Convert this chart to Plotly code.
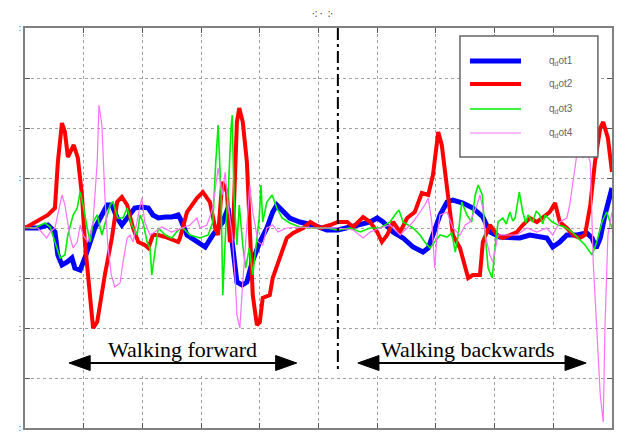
import plotly.graph_objects as go

# ---------------- data (time axis 0..10, signal axis -4..4) ----------------
x_dot1 = [0, 0.22, 0.39, 0.51, 0.56, 0.63, 0.72, 0.80, 0.85, 0.94, 1.02, 1.11, 1.19, 1.31, 1.40, 1.48,
          1.57, 1.65, 1.75, 1.87, 1.99, 2.10, 2.18, 2.27, 2.39, 2.50, 2.61, 2.64, 2.76, 2.93, 3.07, 3.20,
          3.37, 3.46, 3.54, 3.61, 3.70, 3.78, 3.87, 4.00, 4.12, 4.22, 4.29, 4.40, 4.51, 4.68, 4.91, 5.14,
          5.33, 5.54, 5.71, 5.88, 6.00, 6.10, 6.27, 6.44, 6.61, 6.78, 6.87, 6.95, 7.07, 7.19, 7.29, 7.46,
          7.63, 7.80, 7.92, 8.09, 8.26, 8.43, 8.60, 8.77, 8.89, 8.99, 9.11, 9.23, 9.40, 9.57, 9.66, 9.73,
          9.80, 9.88, 9.97, 10.0]
y_dot1 = [0, 0, 0.06, -0.08, -0.54, -0.74, -0.68, -0.60, -0.80, -0.84, -0.60, -0.28, 0, 0.26, 0.46, 0.46,
          0.20, 0.06, 0.20, 0.40, 0.42, 0.40, 0.26, 0.20, 0.22, 0.22, 0.26, 0.20, -0.14, -0.28, -0.38, -0.14,
          0.12, 0.40, -0.34, -1.08, -1.14, -1.08, -0.68, -0.28, 0, 0.32, 0.46, 0.32, 0.20, 0.12, 0.06, -0.04,
          -0.04, 0.02, 0.06, 0.12, 0.20, 0.12, -0.08, -0.20, -0.38, -0.48, -0.40, -0.14, 0.26, 0.52, 0.56, 0.50,
          0.40, 0.22, -0.08, -0.18, -0.20, -0.20, -0.14, -0.18, -0.20, -0.38, -0.28, -0.14, -0.14, -0.10, -0.20, -0.40,
          -0.20, 0.26, 0.66, 0.80]

x_dot2 = [0, 0.39, 0.51, 0.56, 0.63, 0.68, 0.73, 0.83, 0.90, 0.97, 1.02, 1.11, 1.16, 1.23, 1.36, 1.48,
          1.57, 1.65, 1.74, 1.84, 1.93, 2.04, 2.10, 2.18, 2.27, 2.39, 2.50, 2.61, 2.64, 2.76, 2.93, 3.03,
          3.15, 3.24, 3.29, 3.36, 3.44, 3.49, 3.54, 3.61, 3.65, 3.71, 3.78, 3.83, 3.88, 3.95, 4.00, 4.05,
          4.17, 4.22, 4.34, 4.46, 4.57, 4.74, 4.86, 5.03, 5.20, 5.33, 5.49, 5.59, 5.76, 5.88, 6.00, 6.08,
          6.17, 6.27, 6.39, 6.51, 6.64, 6.76, 6.87, 6.95, 7.04, 7.10, 7.19, 7.29, 7.41, 7.55, 7.63, 7.75,
          7.80, 7.92, 8.04, 8.14, 8.26, 8.38, 8.48, 8.60, 8.72, 8.82, 8.94, 9.03, 9.11, 9.23, 9.34, 9.45,
          9.54, 9.63, 9.71, 9.80, 9.85, 9.93, 10.0]
y_dot2 = [0, 0.26, 0.40, 1.32, 2.10, 1.92, 1.42, 1.66, 1.40, 0.66, -0.28, -1.48, -2.00, -1.88, -0.94, -0.20,
          0.52, 0.62, 0.46, 0, -0.28, -0.34, -0.40, -0.14, -0.14, -0.18, -0.24, -0.28, -0.20, 0.32, 0.60, 0.72,
          0.52, 0, -0.14, 0.92, 0.72, -0.28, -0.20, 2.12, 2.40, 2.12, 1.32, 0, -1.34, -1.94, -1.88, -1.40,
          -1.34, -1.00, -0.60, -0.20, -0.10, 0, 0.12, 0, 0.06, 0.12, 0.12, 0.02, 0.22, 0.12, -0.08, -0.28,
          -0.14, 0.12, -0.08, 0.20, 0.32, 0.70, 0.66, 1.06, 1.92, 1.66, 0.80, -0.14, -0.40, -1.00, -0.94, -0.94,
          -0.28, 0.06, -0.14, -0.20, -0.14, -0.08, 0.06, 0.20, 0.12, 0.20, 0.32, 0.50, 0.12, 0, -0.14, -0.20,
          -0.14, 0.46, 1.32, 2.00, 2.12, 1.80, 1.12]

x_dot3 = [0, 0.17, 0.34, 0.43, 0.51, 0.60, 0.68, 0.73, 0.82, 0.89, 0.94, 0.99, 1.06, 1.11, 1.16, 1.23,
          1.31, 1.36, 1.45, 1.50, 1.58, 1.67, 1.74, 1.82, 1.91, 1.96, 2.01, 2.08, 2.13, 2.16, 2.21, 2.27,
          2.39, 2.50, 2.61, 2.69, 2.81, 2.98, 3.12, 3.20, 3.25, 3.29, 3.34, 3.37, 3.42, 3.46, 3.51, 3.53,
          3.56, 3.61, 3.65, 3.71, 3.76, 3.82, 3.88, 3.94, 3.99, 4.02, 4.05, 4.12, 4.21, 4.29, 4.38, 4.51,
          4.68, 4.91, 5.14, 5.33, 5.54, 5.71, 5.88, 6.05, 6.22, 6.30, 6.37, 6.44, 6.52, 6.61, 6.73, 6.81,
          6.90, 6.98, 7.07, 7.19, 7.27, 7.33, 7.38, 7.44, 7.53, 7.61, 7.67, 7.72, 7.79, 7.84, 7.89, 7.96,
          8.01, 8.06, 8.14, 8.20, 8.26, 8.31, 8.35, 8.42, 8.48, 8.53, 8.57, 8.65, 8.71, 8.77, 8.82, 8.86,
          8.92, 8.98, 9.08, 9.20, 9.32, 9.42, 9.54, 9.66, 9.74, 9.83, 9.91, 10.0]
y_dot3 = [0, 0, 0.10, 0.02, -0.28, -0.60, -0.54, -0.14, 0.26, 0.40, 0.72, 0.46, 0, -0.28, 0.12, 0.26,
          -0.14, 0.06, 0.46, 0.52, 0.20, 0.20, 0.40, 0.06, -0.14, 0.26, 0.12, -0.28, -0.40, -0.94, -0.48, 0,
          -0.14, -0.20, -0.04, 0, -0.14, -0.20, -0.14, 0.12, 1.32, 2.06, 0.66, -1.34, 0, 0.66, 2.00, 2.26,
          0.66, -0.34, 0.46, -0.34, -0.80, -0.40, -0.94, -0.28, 0.20, 0.86, 0.12, 0.52, 0.66, 0.40, 0.20, 0.10,
          0.02, 0, 0, -0.04, 0, -0.08, 0, 0, 0.12, 0.26, 0.36, 0.12, 0.06, 0, -0.14, -0.28,
          -0.40, -0.28, -0.14, -0.18, -0.10, -0.48, -0.14, 0.52, 0.26, 0.12, 0.66, 0.86, 0.66, -0.14, -0.80, -1.00,
          -0.34, 0.12, 0.20, 0.08, 0.32, 0.14, 0.20, 0.72, 0.32, 0.10, 0.26, 0.12, 0.34, 0.26, 0.08, 0.26,
          0.18, 0.12, 0.06, 0.02, -0.08, -0.20, -0.34, -0.54, -0.28, 0.12, 0.32, 0]

x_dot4 = [0, 0.22, 0.37, 0.43, 0.51, 0.56, 0.63, 0.68, 0.77, 0.82, 0.89, 0.94, 0.99, 1.07, 1.16, 1.23,
          1.26, 1.31, 1.36, 1.41, 1.47, 1.53, 1.62, 1.67, 1.74, 1.79, 1.84, 1.93, 1.99, 2.04, 2.13, 2.21,
          2.33, 2.50, 2.67, 2.81, 2.93, 2.98, 3.10, 3.20, 3.29, 3.36, 3.41, 3.46, 3.53, 3.58, 3.61, 3.66,
          3.71, 3.78, 3.83, 3.88, 3.97, 4.05, 4.12, 4.22, 4.31, 4.46, 4.68, 4.91, 5.33, 5.59, 5.76, 5.88,
          6.05, 6.22, 6.39, 6.51, 6.61, 6.73, 6.81, 6.87, 6.93, 6.98, 7.02, 7.07, 7.19, 7.29, 7.41, 7.50,
          7.58, 7.70, 7.75, 7.80, 7.84, 7.92, 7.97, 8.06, 8.21, 8.38, 8.55, 8.72, 8.89, 8.99, 9.11, 9.23,
          9.28, 9.34, 9.40, 9.45, 9.51, 9.57, 9.63, 9.68, 9.74, 9.80, 9.85, 9.88, 9.93, 10.0]
y_dot4 = [0, 0, -0.20, -0.08, 0, 0.26, 0.66, 0.46, -0.20, -0.40, -0.28, 0.06, -0.14, -0.28, 0.12, 1.32,
          2.46, 2.06, 0.66, -0.34, -0.94, -1.18, -1.10, -0.68, -0.20, -0.14, -0.28, 0.26, 0.60, 0.12, -0.14, -0.08,
          0.02, -0.08, 0, 0.06, 0.20, 0, 0.06, 0.40, 1.20, 0.66, 1.12, 0.46, -0.14, -1.00, -1.74, -2.00,
          -1.08, 0, 0.86, 0.32, -0.28, -0.34, 0, 0.06, -0.08, 0, 0.02, 0, 0, -0.04, -0.20, -0.08,
          0, 0.06, -0.14, 0, 0.12, 0.32, 0.46, 0.60, 0.12, -0.80, -0.14, 0.26, 0.32, 0, -0.14, 0.06,
          0.12, 0.46, 0.66, 0.40, -0.14, -0.54, -0.68, -0.14, -0.14, -0.14, 0, -0.08, 0, -0.14, 0.12, 0.20,
          0.46, 1.00, 1.46, 1.66, 1.40, 1.52, 1.32, -0.68, -2.00, -3.34, -3.88, -2.00, -0.14, 0.32]

series_names = ["q<sub>d</sub>ot1", "q<sub>d</sub>ot2", "q<sub>d</sub>ot3", "q<sub>d</sub>ot4"]
series_colors = ["#0000ff", "#ff0000", "#00ee00", "#ff70ff"]
series_widths = [5, 4, 1.6, 1.2]

x_grid = list(range(0, 11))
y_grid = list(range(-4, 5))
y_label_ticks = [-4, -2, -1, 1, 2, 4]
y_label_text = [":"] * len(y_label_ticks)

phase_switch = 5.33
label_forward = "Walking forward"
label_backward = "Walking backwards"

# ---------------- figure ----------------
fig = go.Figure()
xs = [x_dot1, x_dot2, x_dot3, x_dot4]
ys = [y_dot1, y_dot2, y_dot3, y_dot4]
for xv, yv, nm, col, w in zip(xs, ys, series_names, series_colors, series_widths):
    fig.add_trace(go.Scatter(x=xv, y=yv, mode="lines", name=nm, showlegend=False,
                             line=dict(color=col, width=w)))

axis_common = dict(showline=True, linecolor="#808080", linewidth=2, mirror="ticks",
                   ticks="inside", ticklen=5, tickcolor="#555555", tickwidth=1,
                   showgrid=True, gridcolor="#a0a0a0", gridwidth=1, griddash="dot",
                   zeroline=False, automargin=False,
                   tickfont=dict(size=9, color="#333333"))
fig.update_xaxes(range=[0, 10], tickvals=x_grid, showticklabels=False, **axis_common)
fig.update_yaxes(range=[-4, 4], tickvals=y_label_ticks, ticktext=y_label_text,
                 minor=dict(tickvals=y_grid, showgrid=True, gridcolor="#a0a0a0", gridwidth=1,
                            griddash="dot", ticks="inside", ticklen=5, tickcolor="#555555"),
                 **axis_common)

# phase separator
fig.add_shape(type="line", x0=phase_switch, x1=phase_switch, y0=4, y1=-2.84, xref="x", yref="y",
              line=dict(color="black", width=2, dash="12px,4px,3px,4px"), layer="above")

# white backgrounds behind labels
fig.add_shape(type="rect", x0=1.02, x1=4.31, y0=-2.92, y1=-2.02, xref="x", yref="y",
              fillcolor="white", line=dict(width=0), layer="above")
fig.add_shape(type="rect", x0=5.74, x1=9.37, y0=-2.92, y1=-2.02, xref="x", yref="y",
              fillcolor="white", line=dict(width=0), layer="above")

# double arrows drawn as shapes (shaft + two filled heads)
arrow_y = -2.70
head_len = 0.36   # x units
head_half = 0.15  # y units
for x0, x1 in [(0.75, 4.63), (5.67, 9.56)]:
    fig.add_shape(type="line", x0=x0 + head_len * 0.8, x1=x1 - head_len * 0.8, y0=arrow_y, y1=arrow_y,
                  xref="x", yref="y", line=dict(color="black", width=2), layer="above")
    left = f"M {x0},{arrow_y} L {x0 + head_len},{arrow_y + head_half} L {x0 + head_len},{arrow_y - head_half} Z"
    right = f"M {x1},{arrow_y} L {x1 - head_len},{arrow_y + head_half} L {x1 - head_len},{arrow_y - head_half} Z"
    for p in (left, right):
        fig.add_shape(type="path", path=p, xref="x", yref="y", fillcolor="black",
                      line=dict(color="black", width=1), layer="above")

fig.add_annotation(x=2.69, y=-2.43, text=label_forward, showarrow=False, xref="x", yref="y",
                   font=dict(family="Liberation Serif", size=22, color="black"))
fig.add_annotation(x=7.54, y=-2.43, text=label_backward, showarrow=False, xref="x", yref="y",
                   font=dict(family="Liberation Serif", size=22, color="black"))

# legend box (drawn manually to match the original layout)
fig.add_shape(type="rect", x0=7.41, x1=9.76, y0=1.42, y1=3.84, xref="x", yref="y",
              fillcolor="white", line=dict(color="#666666", width=1.5), layer="above")
leg_y = [3.34, 2.88, 2.38, 1.90]
for nm, col, w, ly in zip(series_names, series_colors, series_widths, leg_y):
    fig.add_shape(type="line", x0=7.58, x1=8.45, y0=ly, y1=ly, xref="x", yref="y",
                  line=dict(color=col, width=w), layer="above")
    fig.add_annotation(x=8.89, y=ly, text=nm, showarrow=False, xref="x", yref="y", xanchor="left",
                       font=dict(family="Liberation Sans", size=10, color="#666666"))

# remnants of the title
fig.add_annotation(x=0.506, y=1.0, xref="paper", yref="paper", yanchor="bottom", yshift=6,
                   text="·: ·  :·", showarrow=False, font=dict(size=10, color="#333333"))

fig.update_layout(width=628, height=437, margin=dict(l=25, r=16, t=28, b=9),
                  plot_bgcolor="white", paper_bgcolor="white", showlegend=False)

fig.write_html("out.html")
